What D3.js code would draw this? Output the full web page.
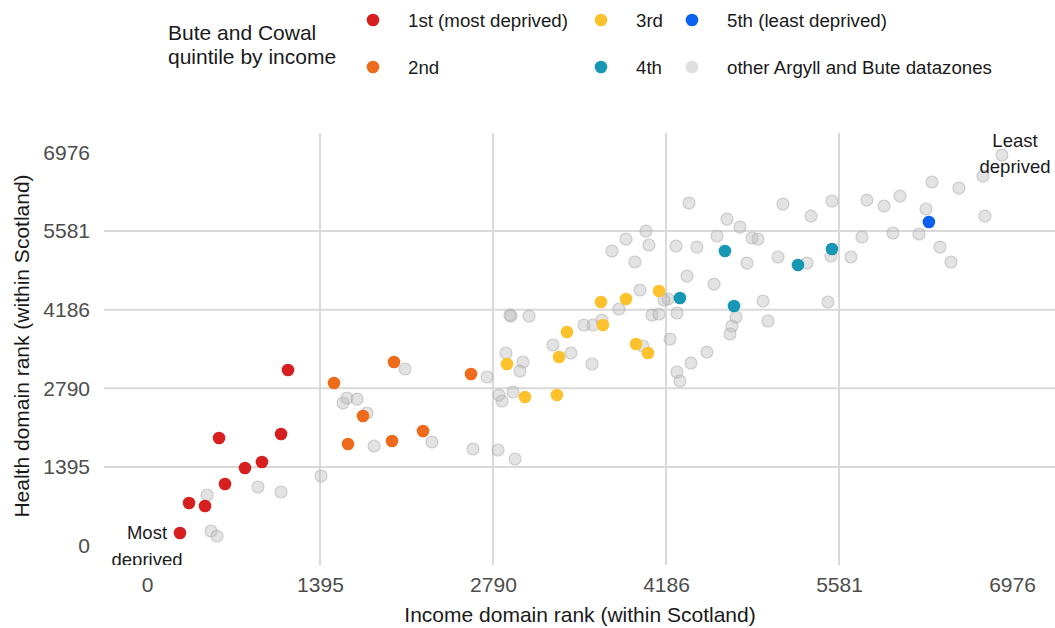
<!DOCTYPE html>
<html>
<head>
<meta charset="utf-8">
<script src="https://cdn.jsdelivr.net/npm/d3@7"></script>
<style>
  body { margin: 0; background: #fff; }
  text { font-family: "Liberation Sans", Arial, sans-serif; }
</style>
</head>
<body>
<svg id="chart"></svg>
<script>
// Income rank vs health rank for datazones

const ticks = [0, 1395, 2790, 4186, 5581, 6976];

const legendTitle = ["Bute and Cowal", "quintile by income"];
const groups = ["1st (most deprived)", "2nd", "3rd", "4th", "5th (least deprived)", "other Argyll and Bute datazones"];
const groupColors = ["#d71f20", "#ee6b1b", "#fbc22e", "#1797b4", "#0b60f0", "#c4c4c4"];

// [income rank, health rank]
const quintile1 = [[266, 222], [339, 754], [468, 701], [581, 1908], [629, 1092], [790, 1376], [927, 1482], [1081, 1979], [1137, 3115]];
const quintile2 = [[1508, 2884], [1992, 3257], [2613, 3044], [1742, 2299], [2226, 2032], [1621, 1802], [1976, 1855]];
const quintile3 = [[2903, 3222], [3048, 2636], [3306, 2671], [3323, 3346], [3387, 3789], [3661, 4322], [3677, 3914],
  [3863, 4375], [3944, 3576], [4040, 3417], [4129, 4517]];
const quintile4 = [[4298, 4393], [4661, 5227], [4734, 4251], [5250, 4979], [5524, 5263]];
const quintile5 = [[6306, 5742]];
const others = [[484, 896], [516, 257], [565, 169], [895, 1038], [1081, 950], [1403, 1234], [1581, 2529], [1613, 2618],
  [1694, 2600], [1774, 2352], [1831, 1766], [2081, 3133], [2298, 1837], [2629, 1713], [2831, 1695], [2968, 1535],
  [2742, 2991], [2839, 2671], [2863, 2565], [2952, 2725], [2895, 3417], [3032, 3257], [3008, 3097], [3274, 3559],
  [3419, 3417], [3589, 3222], [2935, 4073], [2927, 4091], [3081, 4073], [3524, 3914], [3597, 3914], [3669, 4002],
  [3806, 4198], [4000, 3541], [3976, 4535], [4202, 4375], [4169, 4357], [4274, 4127], [4073, 4091], [4129, 4109],
  [4218, 3665], [4274, 3080], [4298, 2920], [4387, 3239], [4516, 3434], [4702, 3754], [4718, 3896], [4750, 4056],
  [4968, 4340], [5008, 3985], [4355, 4783], [4573, 4641], [3935, 5032], [3750, 5227], [3863, 5440], [4024, 5582],
  [4048, 5334], [4266, 5316], [4435, 5298], [4597, 5494], [4677, 5795], [4782, 5653], [4879, 5458], [4927, 5440],
  [4839, 5014], [5089, 5121], [4371, 6079], [5129, 6061], [5323, 5014], [5355, 5848], [5524, 6115], [5516, 5138],
  [5492, 4322], [5677, 5121], [5766, 5476], [5806, 6132], [5944, 6026], [6073, 6203], [6016, 5547], [6226, 5529],
  [6282, 5973], [6331, 6452], [6395, 5298], [6484, 5032], [6548, 6345], [6742, 6558], [6758, 5848], [6895, 6931]];

const series = [quintile1, quintile2, quintile3, quintile4, quintile5];

const width = 1055, height = 628;
const panel = { left: 104, right: 1055, top: 133, bottom: 565 };

const svg = d3.select("#chart")
    .attr("width", width)
    .attr("height", height);

svg.append("rect").attr("width", width).attr("height", height).attr("fill", "#fff");

const x = d3.scaleLinear().domain([0, 6976]).range([147, 1012]);
const y = d3.scaleLinear().domain([0, 6976]).range([545.5, 152.5]);

// gridlines (inner breaks only)
const inner = ticks.slice(1, -1);
svg.append("g").selectAll("line.gx")
    .data(inner).enter().append("line")
    .attr("x1", d => x(d)).attr("x2", d => x(d))
    .attr("y1", panel.top).attr("y2", panel.bottom)
    .attr("stroke", "#d9d9d9").attr("stroke-width", 2);
svg.append("g").selectAll("line.gy")
    .data(inner).enter().append("line")
    .attr("y1", d => y(d)).attr("y2", d => y(d))
    .attr("x1", panel.left).attr("x2", panel.right)
    .attr("stroke", "#d9d9d9").attr("stroke-width", 2);

// axes, drawn with d3 axes and stripped down to the labels
const fmt = d3.format("d");
const xAxis = svg.append("g")
    .attr("transform", `translate(0,${panel.bottom + 9})`)
    .call(d3.axisBottom(x).tickValues(ticks).tickFormat(fmt).tickSize(0).tickPadding(3));
const yAxis = svg.append("g")
    .attr("transform", "translate(90,0)")
    .call(d3.axisLeft(y).tickValues(ticks).tickFormat(fmt).tickSize(0).tickPadding(0));
[xAxis, yAxis].forEach(a => {
    a.select(".domain").remove();
    a.selectAll("text")
        .attr("fill", "#4d4d4d")
        .style("font-size", "21px")
        .style("font-family", "'Liberation Sans', Arial, sans-serif");
});

svg.append("text")
    .attr("x", 580).attr("y", 622)
    .attr("text-anchor", "middle")
    .attr("fill", "#1a1a1a")
    .style("font-size", "21px")
    .text("Income domain rank (within Scotland)");

svg.append("text")
    .attr("transform", "translate(29,346) rotate(-90)")
    .attr("text-anchor", "middle")
    .attr("fill", "#1a1a1a")
    .style("font-size", "21px")
    .text("Health domain rank (within Scotland)");

// clipped plotting area
svg.append("defs").append("clipPath")
    .attr("id", "clip")
    .append("rect")
    .attr("x", panel.left).attr("y", panel.top)
    .attr("width", panel.right - panel.left)
    .attr("height", panel.bottom - panel.top);

const body = svg.append("g").attr("clip-path", "url(#clip)");

body.append("g").selectAll("circle")
    .data(others).enter().append("circle")
    .attr("cx", d => x(d[0])).attr("cy", d => y(d[1]))
    .attr("r", 6)
    .attr("fill", "#b8b8b8").attr("fill-opacity", 0.4)
    .attr("stroke", "#aaaaaa").attr("stroke-opacity", 0.5).attr("stroke-width", 1.2);

series.forEach((s, i) => {
    body.append("g").selectAll("circle")
        .data(s).enter().append("circle")
        .attr("cx", d => x(d[0])).attr("cy", d => y(d[1]))
        .attr("r", 6.3)
        .attr("fill", groupColors[i]);
});

// end labels
const notes = [
    { lines: ["Most", "deprived"], cx: 147, cy: [539, 566] },
    { lines: ["Least", "deprived"], cx: 1015, cy: [147, 173] }
];
notes.forEach(n => {
    n.lines.forEach((t, j) => {
        body.append("text")
            .attr("x", n.cx).attr("y", n.cy[j])
            .attr("text-anchor", "middle")
            .attr("fill", "#1a1a1a")
            .style("font-size", "18.5px")
            .text(t);
    });
});

// legend
const legend = svg.append("g");
legend.selectAll("text.title")
    .data(legendTitle).enter().append("text")
    .attr("x", 168).attr("y", (d, i) => 40 + i * 24)
    .attr("fill", "#1a1a1a")
    .style("font-size", "21px")
    .text(d => d);

const colX = [373, 601, 692];
const rowY = [20, 67];
const items = legend.selectAll("g.item")
    .data(groups).enter().append("g")
    .attr("transform", (d, i) => `translate(${colX[Math.floor(i / 2)]},${rowY[i % 2]})`);
items.append("circle")
    .attr("r", 6.3)
    .attr("fill", (d, i) => groupColors[i])
    .attr("fill-opacity", (d, i) => i === 5 ? 0.55 : 1);
items.append("text")
    .attr("x", 35).attr("dy", "0.35em")
    .attr("fill", "#1a1a1a")
    .style("font-size", "18.7px")
    .text(d => d);
</script>
</body>
</html>
